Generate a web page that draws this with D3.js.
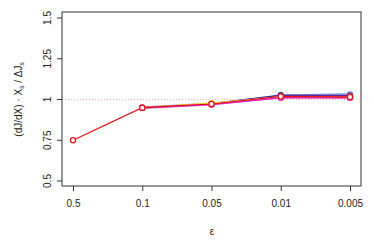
<!DOCTYPE html>
<html>
<head>
<meta charset="utf-8">
<script src="https://cdn.jsdelivr.net/npm/d3@7"></script>
<style>
  body { margin: 0; background: #fff; }
  text { font-family: "Liberation Sans", Arial, sans-serif; fill: #222; }
</style>
</head>
<body>
<div id="chart"></div>
<script>
// Data
const epsilons = ["0.5", "0.1", "0.05", "0.01", "0.005"];
const yTicks = [0.5, 0.75, 1, 1.25, 1.5];
const yTickLabels = ["0.5", "0.75", "1", "1.25", "1.5"];

// series values (null = not computed)
const lightBlueVals = [null, 0.95, 0.972, 1.020, 1.032];
const navyVals      = [null, 0.95, 0.972, 1.026, 1.025];
const purpleVals    = [null, 0.95, 0.973, 1.022, 1.021];
const orangeVals    = [null, 0.95, 0.974, 1.017, 1.017];
const yellowVals    = [null, 0.95, 0.977, 1.014, 1.014];
const pinkVals      = [null, 0.95, 0.970, 1.012, 1.009];
const magentaVals   = [null, 0.95, 0.970, 1.010, 1.010];
const redVals       = [0.75, 0.95, 0.972, 1.018, 1.016];

const series = [
  {name: "lightblue", color: "#aab4f0", width: 3,   values: lightBlueVals},
  {name: "navy",      color: "#1a1a8c", width: 1.5, values: navyVals},
  {name: "purple",    color: "#7a2aa8", width: 1.5, values: purpleVals},
  {name: "orange",    color: "#ff9a1a", width: 1.5, values: orangeVals},
  {name: "yellow",    color: "#f0e020", width: 1.5, values: yellowVals},
  {name: "pink",      color: "#ff88c8", width: 1.5, values: pinkVals},
  {name: "magenta",   color: "#ee22cc", width: 1.5, values: magentaVals},
  {name: "red",       color: "#e01010", width: 1.1, values: redVals}
];

const W = 374, H = 249;
const box = {left: 62, right: 361, top: 12, bottom: 186};

const x = d3.scalePoint().domain(epsilons).range([73, 350]);
const y = d3.scaleLinear().domain([0.5, 1.5]).range([181, 18]);

const svg = d3.select("#chart").append("svg")
  .attr("width", W).attr("height", H);

// reference line at 1
svg.append("line")
  .attr("x1", box.left).attr("x2", box.right)
  .attr("y1", y(1)).attr("y2", y(1))
  .attr("stroke", "#f4a0a0").attr("stroke-width", 0.8)
  .attr("stroke-dasharray", "1,2");

// lines
const line = d3.line()
  .defined(d => d.v !== null)
  .x(d => x(d.e))
  .y(d => y(d.v));

series.forEach(s => {
  const pts = s.values.map((v, i) => ({e: epsilons[i], v: v}));
  svg.append("path")
    .datum(pts)
    .attr("fill", "none")
    .attr("stroke", s.color)
    .attr("stroke-width", s.width)
    .attr("d", line);
});

// points
series.forEach(s => {
  const pts = s.values.map((v, i) => ({e: epsilons[i], v: v})).filter(d => d.v !== null);
  svg.append("g").selectAll("circle")
    .data(pts).enter().append("circle")
      .attr("cx", d => x(d.e))
      .attr("cy", d => y(d.v))
      .attr("r", 2.6)
      .attr("fill", "#fff")
      .attr("stroke", s.color)
      .attr("stroke-width", 1.2);
});

// box
svg.append("rect")
  .attr("x", box.left).attr("y", box.top)
  .attr("width", box.right - box.left).attr("height", box.bottom - box.top)
  .attr("fill", "none").attr("stroke", "#333").attr("stroke-width", 1);

// x axis
const xAxis = svg.append("g")
  .attr("transform", `translate(0, ${box.bottom})`)
  .call(d3.axisBottom(x).tickSize(5).tickPadding(9));
xAxis.select(".domain").remove();
xAxis.selectAll("line").attr("stroke", "#333");
xAxis.selectAll("text").style("font-size", "10px").attr("fill", "#222");

// y axis
const yAxis = svg.append("g")
  .attr("transform", `translate(${box.left}, 0)`)
  .call(d3.axisLeft(y).tickValues(yTicks).tickFormat((d, i) => yTickLabels[i]).tickSize(5));
yAxis.select(".domain").remove();
yAxis.selectAll("line").attr("stroke", "#333");
yAxis.selectAll("text")
  .style("font-size", "10px")
  .attr("fill", "#222")
  .attr("x", null).attr("dy", null)
  .attr("text-anchor", "middle")
  .attr("transform", d => `translate(-11, ${y(d)}) rotate(-90)`)
  .attr("y", 0);
yAxis.selectAll(".tick").attr("transform", null);
yAxis.selectAll(".tick line").attr("y1", d => y(d)).attr("y2", d => y(d));

// axis titles
svg.append("text")
  .attr("x", (box.left + box.right) / 2 + 0.5)
  .attr("y", 235)
  .attr("text-anchor", "middle")
  .style("font-size", "10px")
  .text("ε");

const yl = svg.append("text")
  .attr("transform", `translate(22, ${y(1)}) rotate(-90)`)
  .attr("text-anchor", "middle")
  .style("font-size", "10px");
yl.append("tspan").text("(dJ/dX) · X");
yl.append("tspan").attr("dy", 2).style("font-size", "6.5px").text("s");
yl.append("tspan").attr("dy", -2).text(" / ΔJ");
yl.append("tspan").attr("dy", 2).style("font-size", "6.5px").text("s");
</script>
</body>
</html>
